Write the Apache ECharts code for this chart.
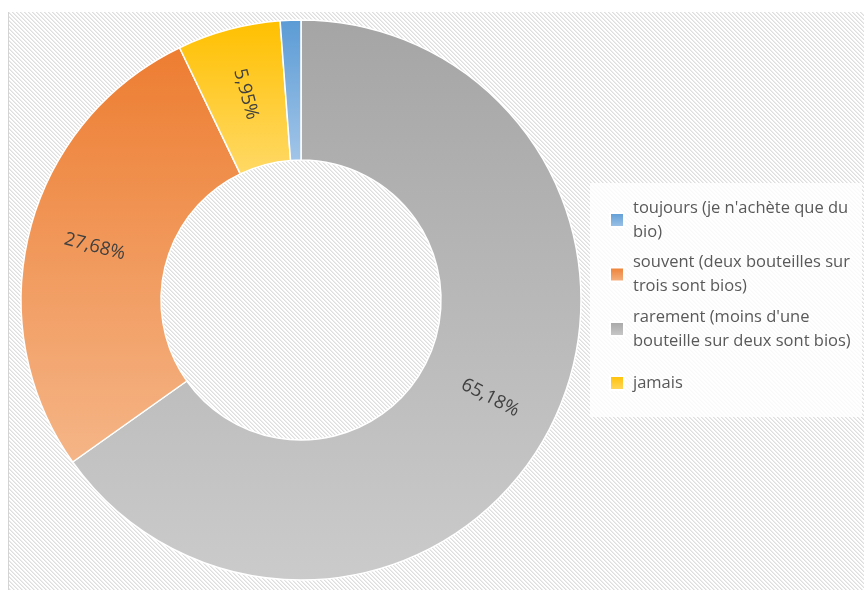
<!DOCTYPE html>
<html><head><meta charset="utf-8">
<style>html,body{margin:0;padding:0;background:#fff}#c{width:864px;height:590px}</style>
<script src="https://cdn.jsdelivr.net/npm/echarts@6/dist/echarts.min.js"></script>
</head><body><div id="c"></div>
<script>
// Data (drawing order: clockwise from 12 o'clock)
const categories = [
  "rarement (moins d'une bouteille sur deux sont bios)",
  "souvent (deux bouteilles sur trois sont bios)",
  "jamais",
  "toujours (je n'achète que du bio)"
];
const values = [65.18, 27.68, 5.95, 1.19];
const showLabel = [true, true, true, false];
const legendOrder = [
  "toujours (je n'achète que du bio)",
  "souvent (deux bouteilles sur trois sont bios)",
  "rarement (moins d'une bouteille sur deux sont bios)"
];
const legendOrder2 = ["jamais"];
const legendLines = {
  "toujours (je n'achète que du bio)": "toujours (je n'achète que du\nbio)",
  "souvent (deux bouteilles sur trois sont bios)": "souvent (deux bouteilles sur\ntrois sont bios)",
  "rarement (moins d'une bouteille sur deux sont bios)": "rarement (moins d'une\nbouteille sur deux sont bios)",
  "jamais": "jamais"
};
const gradTop = ["#a5a5a5", "#ed7d31", "#ffc000", "#5b9bd5"];
const gradBottom = ["#cbcbcb", "#f5b587", "#ffd966", "#a2c5e8"];

// hatch pattern
const tile = document.createElement('canvas');
tile.width = 4; tile.height = 4;
const tctx = tile.getContext('2d');
for (let y = 0; y < 4; y++) for (let x = 0; x < 4; x++) {
  const d = ((x - y) % 4 + 4) % 4;
  tctx.fillStyle = d === 0 ? '#dedede' : (d === 1 ? '#ededed' : '#ffffff');
  tctx.fillRect(x, y, 1, 1);
}

const chart = echarts.init(document.getElementById('c'), null, {renderer: 'canvas'});
const font = '"Open Sans", "Noto Sans", sans-serif';
const legendCommon = {
  orient: 'vertical',
  itemWidth: 14, itemHeight: 14,
  icon: 'rect',
  selectedMode: false,
  formatter: n => legendLines[n],
  textStyle: {color: '#595959', fontSize: 16.5, fontFamily: font, lineHeight: 24, padding: [0, 0, 0, 4]},
};
chart.setOption({
  animation: false,
  graphic: [
    {type: 'rect', z: -10, shape: {x: 8, y: 12, width: 870, height: 590},
     style: {fill: {image: tile, repeat: 'repeat'}}},
    {type: 'line', z: -9, shape: {x1: 8.5, y1: 12, x2: 8.5, y2: 590},
     style: {stroke: '#d4d4d4', lineWidth: 1}},
    {type: 'rect', z: -5, shape: {x: 590, y: 183, width: 272, height: 234},
     style: {fill: 'rgba(255,255,255,0.8)'}}
  ],
  legend: [
    Object.assign({}, legendCommon, {data: legendOrder, left: 604, top: 191, itemGap: 6.5}),
    Object.assign({}, legendCommon, {data: legendOrder2, left: 604, top: 366})
  ],
  series: [{
    type: 'pie',
    center: [301, 300],
    radius: [140, 280],
    startAngle: 90,
    clockwise: true,
    avoidLabelOverlap: false,
    emphasis: {disabled: true},
    itemStyle: {borderColor: '#ffffff', borderWidth: 1.5},
    label: {
      show: true, position: 'inside', rotate: 'radial',
      color: '#404040', fontSize: 18.5, fontFamily: font,
      formatter: p => p.value.toFixed(2).replace('.', ',') + '%'
    },
    labelLine: {show: false},
    data: categories.map((c, i) => ({
      name: c, value: values[i],
      label: {show: showLabel[i]},
      itemStyle: {color: new echarts.graphic.LinearGradient(0, 0, 0, 1, [
        {offset: 0, color: gradTop[i]}, {offset: 1, color: gradBottom[i]}])}
    }))
  }]
});
</script></body></html>
